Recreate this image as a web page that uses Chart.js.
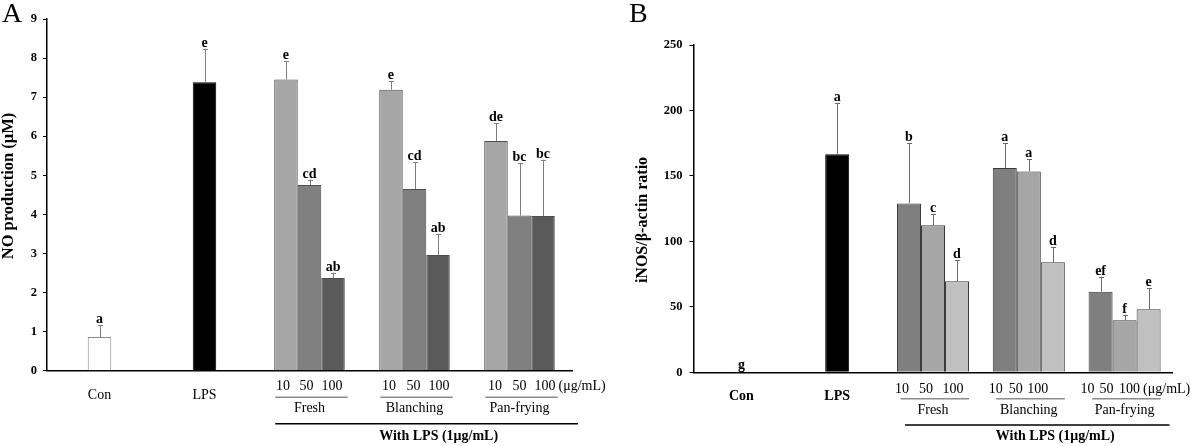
<!DOCTYPE html>
<html><head><meta charset="utf-8">
<script src="https://cdn.jsdelivr.net/npm/chart.js@4.4.1/dist/chart.umd.min.js"></script>
<style>
html,body{margin:0;padding:0;background:#fff;}
#wrap{position:relative;width:1200px;height:446px;overflow:hidden;background:#fff;}
canvas{position:absolute;top:0;}
.panel{position:absolute;font-family:'Liberation Serif','Times New Roman',serif;font-size:28px;line-height:28px;color:#000;}
</style></head><body>
<div id="wrap">
<canvas id="cA" width="640" height="446" style="left:0px"></canvas>
<canvas id="cB" width="605" height="446" style="left:595px"></canvas>
<div class="panel" style="left:2px;top:-1px">A</div>
<div class="panel" style="left:629px;top:-1px">B</div>
</div>
<script>
// ---------- DATA ----------
const categories = ['Con', 'LPS', 'Fresh', 'Blanching', 'Pan-frying'];
const concentrations = ['10', '50', '100'];
const unitLabel = '(μg/mL)';
const groupTitle = 'With LPS (1μg/mL)';

// Panel A: NO production (μM)
const titleA = 'NO production (μM)';
const yTicksA = [0, 1, 2, 3, 4, 5, 6, 7, 8, 9];
const noControl = [0.86, 7.38];          // Con, LPS
const noControlSD = [0.31, 0.86];
const noControlLetters = ['a', 'e'];
const no10 = [7.45, 7.19, 5.88];         // Fresh, Blanching, Pan-frying
const no10SD = [0.47, 0.22, 0.46];
const no10Letters = ['e', 'e', 'de'];
const no50 = [4.75, 4.65, 3.97];
const no50SD = [0.14, 0.69, 1.35];
const no50Letters = ['cd', 'cd', 'bc'];
const no100 = [2.37, 2.96, 3.96];
const no100SD = [0.14, 0.54, 1.44];
const no100Letters = ['ab', 'ab', 'bc'];

// Panel B: iNOS/β-actin ratio
const titleB = 'iNOS/β-actin ratio';
const yTicksB = [0, 50, 100, 150, 200, 250];
const inosControl = [0.6, 166.5];
const inosControlSD = [0.3, 39];
const inosControlLetters = ['g', 'a'];
const inos10 = [129, 156, 61.6];
const inos10SD = [46, 19, 11.4];
const inos10Letters = ['b', 'a', 'ef'];
const inos50 = [112.3, 153.3, 39.7];
const inos50SD = [8.7, 9.4, 4.3];
const inos50Letters = ['c', 'a', 'f'];
const inos100 = [69.5, 84, 48.1];
const inos100SD = [16.3, 11.5, 16.1];
const inos100Letters = ['d', 'd', 'e'];

// ---------- HELPERS ----------
const SERIF = "'Liberation Serif','Times New Roman',serif";

function buildDatasets(ctrl, ctrlSD, ctrlLetters, vals, sds, letters, style) {
  return [0, 1, 2].map(d => {
    const isMid = d === 1;
    const pad = [null, null];
    return {
      label: concentrations[d],
      data: isMid ? [...ctrl, ...vals[d]] : [...pad, ...vals[d]],
      sd: isMid ? [...ctrlSD, ...sds[d]] : [...pad, ...sds[d]],
      letters: isMid ? [...ctrlLetters, ...letters[d]] : [...pad, ...letters[d]],
      backgroundColor: isMid ? [...style.ctrlFill, style.fill[d], style.fill[d], style.fill[d]] : style.fill[d],
      borderColor: isMid ? [...style.ctrlBorder, style.border, style.border, style.border] : style.border,
      borderWidth: 1,
      barPercentage: 1,
      categoryPercentage: style.catPct
    };
  });
}

function hline(ctx, x1, x2, y) {
  ctx.beginPath(); ctx.moveTo(x1, y); ctx.lineTo(x2, y); ctx.stroke();
}

const errorPlugin = {
  id: 'errbars',
  afterDatasetsDraw(chart, args, o) {
    const ctx = chart.ctx, y = chart.scales.y;
    chart.data.datasets.forEach((ds, di) => {
      const meta = chart.getDatasetMeta(di);
      meta.data.forEach((bar, i) => {
        const v = ds.data[i];
        if (v == null) return;
        const top = y.getPixelForValue(v + ds.sd[i]);
        const bx = Math.round(bar.x) + 0.5;
        ctx.save();
        ctx.strokeStyle = o.color; ctx.lineWidth = 1;
        ctx.beginPath();
        ctx.moveTo(bx, bar.y); ctx.lineTo(bx, top);
        ctx.moveTo(bx - o.cap, Math.round(top) + 0.5); ctx.lineTo(bx + o.cap, Math.round(top) + 0.5);
        ctx.stroke();
        ctx.fillStyle = '#000';
        ctx.font = 'bold 14px ' + SERIF;
        ctx.textAlign = 'center'; ctx.textBaseline = 'alphabetic';
        ctx.fillText(ds.letters[i], bar.x, top - 2);
        ctx.restore();
      });
    });
  }
};

const groupPlugin = {
  id: 'groups',
  afterDraw(chart, args, o) {
    const ctx = chart.ctx, b = chart.chartArea.bottom;
    const metas = [0, 1, 2].map(i => chart.getDatasetMeta(i));
    ctx.save();
    ctx.fillStyle = '#000';
    ctx.textBaseline = 'middle';
    let firstLeft = null, lastLabelX = 0;
    for (let g = 2; g < categories.length; g++) {
      const bars = metas.map(m => m.data[g]);
      ctx.font = '14px ' + SERIF; ctx.textAlign = 'center';
      bars.forEach((bar, d) => {
        const x = bar.x + o.subDx[g - 2][d];
        ctx.fillText(concentrations[d], x, b + o.sub);
        if (d === 2) lastLabelX = x + ctx.measureText(concentrations[d]).width / 2;
      });
      const left = bars[0].x - bars[0].width / 2, right = bars[2].x + bars[2].width / 2;
      if (firstLeft === null) firstLeft = left;
      ctx.strokeStyle = '#8c8c8c'; ctx.lineWidth = 1.5;
      hline(ctx, left + o.ulL, right + o.ulR, b + o.under);
      ctx.fillText(categories[g], bars[1].x, b + o.name);
    }
    ctx.textAlign = 'left';
    ctx.fillText(unitLabel, lastLabelX + 3, b + o.sub);
    ctx.strokeStyle = '#000'; ctx.lineWidth = 1.5;
    const x1 = firstLeft + o.lineL, x2 = chart.chartArea.right + o.lineR;
    hline(ctx, x1, x2, b + o.line);
    ctx.font = 'bold 14px ' + SERIF; ctx.textAlign = 'center';
    ctx.fillText(groupTitle, (x1 + x2) / 2 + o.titleDx, b + o.title);
    ctx.restore();
  }
};

const yTitlePlugin = {
  id: 'ytitle',
  afterDraw(chart, args, o) {
    const ctx = chart.ctx;
    ctx.save();
    ctx.translate(o.x, o.y);
    ctx.rotate(-Math.PI / 2);
    ctx.fillStyle = '#000';
    ctx.font = 'bold ' + o.size + 'px ' + SERIF;
    ctx.textAlign = 'center'; ctx.textBaseline = 'middle';
    ctx.fillText(o.text, 0, 0);
    ctx.restore();
  }
};

function makeChart(id, datasets, yTicks, cfg) {
  return new Chart(document.getElementById(id), {
    type: 'bar',
    data: { labels: categories, datasets },
    options: {
      responsive: false,
      animation: false,
      layout: { padding: { left: cfg.padL, top: cfg.padT, right: cfg.padR, bottom: 0 } },
      plugins: {
        legend: { display: false },
        tooltip: { enabled: false },
        errbars: { color: cfg.errColor, cap: 2.5 },
        groups: cfg.groups,
        ytitle: cfg.ytitle
      },
      scales: {
        x: {
          grid: { display: false },
          border: { display: true, color: '#000', width: 1.5 },
          ticks: {
            color: '#000', padding: 8, maxRotation: 0, autoSkip: false,
            font: { family: SERIF, size: 14, weight: cfg.xBold ? 'bold' : 'normal' },
            callback: (v, i) => (i < 2 ? categories[i] : '')
          },
          afterFit: s => { s.height = cfg.xH; }
        },
        y: {
          min: yTicks[0], max: yTicks[yTicks.length - 1],
          grid: { drawOnChartArea: false, drawTicks: true, tickLength: 4, color: '#000', lineWidth: 1 },
          border: { display: true, color: '#000', width: 1.5 },
          ticks: { color: '#000', padding: cfg.tickPad, font: { family: SERIF, size: 12.5, weight: 'bold' } },
          afterBuildTicks: s => { s.ticks = yTicks.map(v => ({ value: v })); },
          afterFit: s => { s.width = cfg.yW; }
        }
      }
    },
    plugins: [errorPlugin, groupPlugin, yTitlePlugin]
  });
}

// ---------- PANEL A ----------
makeChart('cA',
  buildDatasets(noControl, noControlSD, noControlLetters,
    [no10, no50, no100], [no10SD, no50SD, no100SD], [no10Letters, no50Letters, no100Letters],
    { fill: ['#a6a6a6', '#808080', '#5a5a5a'], border: '#4d4d4d',
      ctrlFill: ['#ffffff', '#000000'], ctrlBorder: ['#8a8a8a', '#000000'], catPct: 0.672 }),
  yTicksA,
  { padL: 0, padT: 19, padR: 68, yW: 47, xH: 75.3, tickPad: 6, xBold: false, errColor: '#7f7f7f',
    ytitle: { text: titleA, x: 9, y: 186, size: 16.5 },
    groups: { sub: 16, under: 26.6, name: 37.5, line: 53, title: 65.5,
      subDx: [[-3, -3, -1], [-2, -1, 1], [-1, 0, 2]], ulL: 1, ulR: 3,
      lineL: 1, lineR: 6, titleDx: 12 } });

// ---------- PANEL B ----------
makeChart('cB',
  buildDatasets(inosControl, inosControlSD, inosControlLetters,
    [inos10, inos50, inos100], [inos10SD, inos50SD, inos100SD], [inos10Letters, inos50Letters, inos100Letters],
    { fill: ['#7f7f7f', '#a6a6a6', '#c0c0c0'], border: '#3a3a3a',
      ctrlFill: ['#ffffff', '#000000'], ctrlBorder: ['#6a6a6a', '#000000'], catPct: 0.752 }),
  yTicksB,
  { padL: 30, padT: 45, padR: 27.5, yW: 68.5, xH: 73.7, tickPad: 7, xBold: true, errColor: '#6b6b6b',
    ytitle: { text: titleB, x: 48, y: 220, size: 16 },
    groups: { sub: 16.7, under: 26.4, name: 37.7, line: 52.7, title: 64.4,
      subDx: [[-7, -7, -4], [-9, -13, -15], [-13, -18, -19]], ulL: 3.5, ulR: 0,
      lineL: 8, lineR: -3, titleDx: 18 } });
</script>
</body></html>
